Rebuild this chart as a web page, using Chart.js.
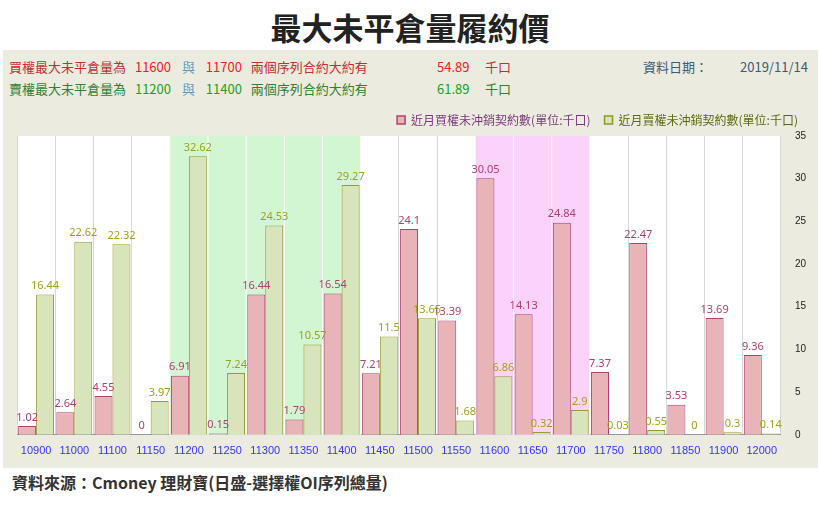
<!DOCTYPE html>
<html><head><meta charset="utf-8">
<script src="https://cdn.jsdelivr.net/npm/chart.js@4"></script>
<style>
body{margin:0;width:820px;height:505px;background:#fff;font-family:"Noto Sans CJK TC","Noto Sans",sans-serif;position:relative;overflow:hidden}
#title{position:absolute;top:4px;left:0;width:820px;text-align:center;font-size:31px;font-weight:bold;color:#222}
#panel{position:absolute;left:3px;top:50px;width:815px;height:418px;background:#ecebe0}
.hd{position:absolute;font-size:13px;white-space:nowrap}
#foot{position:absolute;left:12px;top:470px;font-size:16px;font-weight:bold;color:#333}
#wrap{position:absolute;left:0;top:50px;width:815px;height:368px}
</style></head><body>
<div id="title">最大未平倉量履約價</div>
<div id="panel">
<div class="hd" style="left:6px;top:7px;color:#c03030">買權最大未平倉量為 <span style="color:#f02020;margin-left:6px">11600</span> <span style="color:#5a9ac0;margin:0 8px">與</span> <span style="color:#f02020">11700</span> <span style="color:#c03030;margin-left:6px">兩個序列合約大約有</span><span style="color:#f02020;position:absolute;left:428px">54.89</span><span style="color:#c03030;position:absolute;left:476px">千口</span></div>
<div class="hd" style="left:6px;top:29px;color:#308030">賣權最大未平倉量為 <span style="color:#20a020;margin-left:6px">11200</span> <span style="color:#5a9ac0;margin:0 8px">與</span> <span style="color:#20a020">11400</span> <span style="color:#308030;margin-left:6px">兩個序列合約大約有</span><span style="color:#20a020;position:absolute;left:428px">61.89</span><span style="color:#308030;position:absolute;left:476px">千口</span></div>
<div class="hd" style="left:640px;top:7px;color:#3a5a80">資料日期：</div>
<div class="hd" style="left:737px;top:7px;color:#3a5a80">2019/11/14</div>
<div id="wrap"><canvas id="c"></canvas></div>
</div>
<div id="foot">資料來源：Cmoney 理財寶(日盛-選擇權OI序列總量)</div>
<script>
const categories=["10900","11000","11100","11150","11200","11250","11300","11350","11400","11450","11500","11550","11600","11650","11700","11750","11800","11850","11900","12000"];
const callOI=[1.02,2.64,4.55,0,6.91,0.15,16.44,1.79,16.54,7.21,24.1,13.39,30.05,14.13,24.84,7.37,22.47,3.53,13.69,9.36];
const putOI=[16.44,22.62,22.32,3.97,32.62,7.24,24.53,10.57,29.27,11.5,13.65,1.68,6.86,0.32,2.9,0.03,0.55,0,0.3,0.14];
const yTicks=[0,5,10,15,20,25,30,35];
const greenBand=["11200","11400"], pinkBand=["11600","11700"];

Chart.register({id:'bg',beforeDraw(ch){const a=ch.chartArea;if(!a)return;ch.ctx.save();ch.ctx.fillStyle='#fff';ch.ctx.fillRect(a.left,a.top,a.right-a.left,a.bottom-a.top);ch.ctx.restore();}});
const bands={id:'bands',beforeDatasetsDraw(ch){const x=ch.scales.x,a=ch.chartArea,c=ch.ctx;const w=x.getPixelForValue(1)-x.getPixelForValue(0);
 [[greenBand,'#d2f5d2'],[pinkBand,'#fad2fa']].forEach(([b,col])=>{const i0=categories.indexOf(b[0]),i1=categories.indexOf(b[1]);
 c.save();c.fillStyle=col;const l=x.getPixelForValue(i0)-w/2,r=x.getPixelForValue(i1)+w/2;c.fillRect(l,a.top,r-l,a.bottom-a.top);
 c.strokeStyle='#ffffff';c.lineWidth=1;for(let i=i0;i<=i1+1;i++){const px=x.getPixelForValue(i)-w/2;c.beginPath();c.moveTo(px,a.top);c.lineTo(px,a.bottom);c.stroke();}c.restore();});}};
const labels={id:'labels',afterDatasetsDraw(ch){const c=ch.ctx;c.save();c.font='11px "Noto Sans"';c.textAlign='center';c.textBaseline='bottom';
 ch.data.datasets.forEach((ds,di)=>{c.fillStyle=di?'#a0a020':'#b04070';ch.getDatasetMeta(di).data.forEach((b,i)=>{c.fillText(String(ds.data[i]),b.x,b.y-3);});});c.restore();}};

new Chart(document.getElementById('c'),{type:'bar',
data:{labels:categories,datasets:[
 {label:'近月買權未沖銷契約數(單位:千口)',data:callOI,backgroundColor:'#e8b4b8',borderColor:'#b04070',borderWidth:1,categoryPercentage:0.94,barPercentage:1},
 {label:'近月賣權未沖銷契約數(單位:千口)',data:putOI,backgroundColor:'#d8e4bc',borderColor:'#9a9a30',borderWidth:1,categoryPercentage:0.94,barPercentage:1}]},
options:{responsive:true,maintainAspectRatio:false,animation:false,
 layout:{padding:{left:14,right:6,top:0,bottom:0}},
 plugins:{legend:{position:'top',align:'end',labels:{boxWidth:8,boxHeight:8,font:{size:12,family:'"Noto Sans CJK TC"'},color:'#7a3a7a',padding:14,
   generateLabels(ch){return ch.data.datasets.map((d,i)=>({text:d.label,fillStyle:d.backgroundColor,strokeStyle:i?'#8a9a20':'#b04070',lineWidth:1.5,datasetIndex:i,fontColor:i?'#5a6a10':'#7a3a7a'}));}}},
  tooltip:{enabled:false}},
 scales:{x:{grid:{color:'#d8d8d8',offset:true,drawTicks:false},border:{color:'#999'},ticks:{color:'#3333ff',font:{size:11},padding:10}},
  y:{position:'right',min:0,max:35,afterBuildTicks(s){s.ticks=yTicks.map(v=>({value:v}));},grid:{display:false},border:{display:false},ticks:{color:'#222',font:{size:10},padding:6}}}},
plugins:[bands,labels]});
</script></body></html>
